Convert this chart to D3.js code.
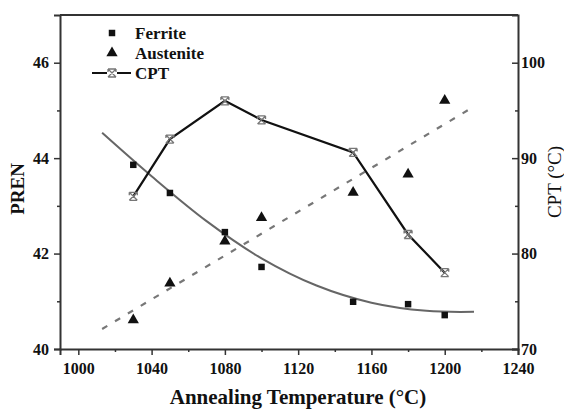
<!DOCTYPE html>
<html>
<head>
<meta charset="utf-8">
<script src="https://cdn.jsdelivr.net/npm/d3@7"></script>
<style>
  html, body { margin: 0; padding: 0; background: #fff; }
  svg { display: block; }
  svg text { font-family: "Liberation Serif", "DejaVu Serif", serif !important; fill: #111; }
</style>
</head>
<body>
<svg id="chart" width="564" height="410"></svg>
<script>
// Annealing temperatures (°C)
const temperatures = [1030, 1050, 1080, 1100, 1150, 1180, 1200];
// PREN of each phase
const ferritePREN   = [43.86, 43.27, 42.45, 41.72, 40.99, 40.94, 40.71];
const austenitePREN = [40.61, 41.38, 42.26, 42.75, 43.28, 43.66, 45.21];
// Critical pitting temperature (°C)
const cptValues     = [86, 92, 96, 94, 90.6, 82, 78];

// Fitted trend for ferrite (temperature, PREN)
const ferriteFitT   = [1013, 1040, 1070, 1100, 1130, 1160, 1190, 1216];
const ferriteFitP   = [44.53, 43.62, 42.68, 41.90, 41.33, 40.97, 40.80, 40.78];
// Linear trend for austenite (end points)
const austeniteFitT = [1013, 1215.5];
const austeniteFitP = [40.42, 45.07];

// Axis ticks
const xTicks       = [1000, 1040, 1080, 1120, 1160, 1200, 1240];
const xMinorTicks  = [1020, 1060, 1100, 1140, 1180, 1220];
const yLeftTicks   = [40, 42, 44, 46];
const yLeftMinor   = [41, 43, 45];
const yRightTicks  = [70, 80, 90, 100];
const yRightMinor  = [75, 85, 95];

const legendLabels = ["Ferrite", "Austenite", "CPT"];

const SERIF = '"Liberation Serif", "DejaVu Serif", serif';
const svg = d3.select("#chart");
const L = 60, R = 518, T = 15, B = 349;

const x  = d3.scaleLinear().domain([990, 1240]).range([L, R]);
const yL = d3.scaleLinear().domain([40, 47]).range([B, T]);
const yR = d3.scaleLinear().domain([70, 105]).range([B, T]);

const axisColor = "#333";

// Frame: top line
svg.append("line").attr("x1", L).attr("x2", R).attr("y1", T).attr("y2", T)
  .attr("stroke", axisColor).attr("stroke-width", 2);

function styleAxis(g) {
  g.attr("font-family", SERIF);
  g.select(".domain").attr("stroke", axisColor).attr("stroke-width", 2);
  g.selectAll(".tick line").attr("stroke", axisColor).attr("stroke-width", 1.5);
  g.selectAll(".tick text").style("font-family", SERIF)
    .attr("font-weight", "bold").attr("font-size", 16).attr("fill", "#222");
}
function styleMinor(g) {
  g.select(".domain").remove();
  g.selectAll(".tick line").attr("stroke", axisColor).attr("stroke-width", 1.5);
}

// Bottom axis
const gx = svg.append("g").attr("transform", `translate(0,${B})`)
  .call(d3.axisBottom(x).tickValues(xTicks).tickSize(6).tickPadding(8).tickFormat(d3.format("d")));
styleAxis(gx);
svg.append("g").attr("transform", `translate(0,${B})`)
  .call(d3.axisBottom(x).tickValues(xMinorTicks).tickSize(3).tickFormat(""))
  .call(styleMinor);

// Left axis
const gyl = svg.append("g").attr("transform", `translate(${L},0)`)
  .call(d3.axisLeft(yL).tickValues(yLeftTicks).tickSize(6).tickPadding(5).tickFormat(d3.format("d")));
styleAxis(gyl);
svg.append("g").attr("transform", `translate(${L},0)`)
  .call(d3.axisLeft(yL).tickValues(yLeftMinor).tickSize(3).tickFormat(""))
  .call(styleMinor);

// Right axis (ticks pointing inward)
const gyr = svg.append("g").attr("transform", `translate(${R},0)`)
  .call(d3.axisRight(yR).tickValues(yRightTicks).tickSize(-6).tickPadding(3).tickFormat(d3.format("d")));
styleAxis(gyr);
gyr.selectAll(".tick text").attr("x", 3);
svg.append("g").attr("transform", `translate(${R},0)`)
  .call(d3.axisRight(yR).tickValues(yRightMinor).tickSize(-3).tickFormat(""))
  .call(styleMinor);

// Axis titles
svg.append("text").attr("transform", `translate(24,189) rotate(-90)`)
  .style("font-family", SERIF)
  .attr("text-anchor", "middle").attr("font-weight", "bold").attr("font-size", 19)
  .text("PREN");
svg.append("text").attr("transform", `translate(561,182) rotate(-90)`)
  .style("font-family", SERIF)
  .attr("text-anchor", "middle").attr("font-size", 19)
  .text("CPT (°C)");
svg.append("text").attr("x", 298).attr("y", 404)
  .style("font-family", SERIF)
  .attr("text-anchor", "middle").attr("font-weight", "bold").attr("font-size", 21)
  .text("Annealing Temperature (°C)");

// Ferrite fitted curve
const fitLine = d3.line().curve(d3.curveCatmullRom).x(d => x(d[0])).y(d => yL(d[1]));
svg.append("path")
  .datum(ferriteFitT.map((t, i) => [t, ferriteFitP[i]]))
  .attr("d", fitLine).attr("fill", "none").attr("stroke", "#666").attr("stroke-width", 2);

// Austenite linear trend (dashed)
svg.append("path")
  .datum(austeniteFitT.map((t, i) => [t, austeniteFitP[i]]))
  .attr("d", d3.line().x(d => x(d[0])).y(d => yL(d[1])))
  .attr("fill", "none").attr("stroke", "#777").attr("stroke-width", 2.2)
  .attr("stroke-dasharray", "6,9");

// CPT line
const cptData = temperatures.map((t, i) => [t, cptValues[i]]);
svg.append("path").datum(cptData)
  .attr("d", d3.line().x(d => x(d[0])).y(d => yR(d[1])))
  .attr("fill", "none").attr("stroke", "#111").attr("stroke-width", 2.2);

// Marker shapes
const squareSym = d3.symbol().type(d3.symbolSquare).size(42);
const triSym    = d3.symbol().type(d3.symbolTriangle).size(55);
const cptMarker = "M-4,-4L4,4M4,-4L-4,4M-4,-4L4,-4M-4,4L4,4M-4,-4L-4,-1M4,-4L4,-1";

function drawCptMarker(g) {
  g.append("path").attr("d", cptMarker).attr("fill", "none")
    .attr("stroke", "#777").attr("stroke-width", 1.3);
}

svg.append("g").selectAll("path")
  .data(temperatures.map((t, i) => [t, ferritePREN[i]]))
  .join("path").attr("d", squareSym)
  .attr("transform", d => `translate(${x(d[0])},${yL(d[1])})`)
  .attr("fill", "#111");

svg.append("g").selectAll("path")
  .data(temperatures.map((t, i) => [t, austenitePREN[i]]))
  .join("path").attr("d", triSym)
  .attr("transform", d => `translate(${x(d[0])},${yL(d[1])})`)
  .attr("fill", "#111");

svg.append("g").selectAll("g")
  .data(cptData).join("g")
  .attr("transform", d => `translate(${x(d[0])},${yR(d[1])})`)
  .each(function () { drawCptMarker(d3.select(this)); });

// Legend
const legend = svg.append("g");
const legendY = [33, 53, 73];
legend.append("path").attr("d", squareSym).attr("transform", `translate(112,${legendY[0]})`).attr("fill", "#111");
legend.append("path").attr("d", triSym).attr("transform", `translate(112,${legendY[1]})`).attr("fill", "#111");
legend.append("line").attr("x1", 92).attr("x2", 131).attr("y1", legendY[2]).attr("y2", legendY[2])
  .attr("stroke", "#111").attr("stroke-width", 2.2);
drawCptMarker(legend.append("g").attr("transform", `translate(112,${legendY[2]})`)
  .call(g => g.append("rect").attr("x", -5).attr("y", -5).attr("width", 10).attr("height", 10).attr("fill", "#fff")));
legend.selectAll("text.lab").data(legendLabels).join("text").attr("class", "lab")
  .style("font-family", SERIF)
  .attr("x", 135).attr("y", (d, i) => legendY[i] + 6)
  .attr("font-weight", "bold").attr("font-size", 17)
  .text(d => d);
</script>
</body>
</html>
